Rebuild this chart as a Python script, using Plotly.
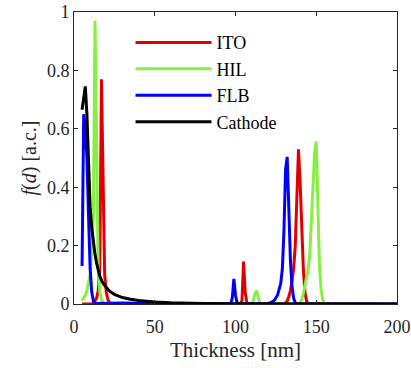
import plotly.graph_objects as go

# ---- data (thickness in nm, f(d) in a.c.) ----
ito_x = [5, 10, 11, 12, 13, 14, 15, 16, 17, 18, 19, 20, 21, 22, 23, 60, 100, 103, 104, 105, 106, 107, 108,
         130, 131, 132, 133, 134, 135, 136, 137, 138, 139, 140, 141, 142, 143, 144, 145, 200]
ito_y = [0, 0, 0.001, 0.003, 0.01, 0.02, 0.045, 0.13, 0.77, 0.4, 0.1, 0.04, 0.015, 0.005, 0, 0, 0, 0, 0.01, 0.145, 0.04, 0.005, 0,
         0, 0.004, 0.01, 0.025, 0.045, 0.08, 0.12, 0.2, 0.35, 0.53, 0.42, 0.25, 0.12, 0.04, 0.01, 0, 0]

hil_x = [5, 6, 7, 8, 9, 10, 11, 12, 13, 14, 15, 16, 17, 18, 19, 60, 108, 110, 111, 112, 113, 114, 115, 116,
         139, 140, 141, 142, 143, 144, 145, 146, 147, 148, 149, 150, 151, 152, 153, 154, 155, 156, 200]
hil_y = [0.012, 0.02, 0.03, 0.045, 0.07, 0.1, 0.18, 0.3, 0.97, 0.45, 0.12, 0.04, 0.015, 0.005, 0, 0, 0, 0, 0.01, 0.035, 0.046, 0.025, 0.005, 0,
         0, 0.005, 0.015, 0.035, 0.06, 0.09, 0.12, 0.17, 0.28, 0.42, 0.52, 0.556, 0.35, 0.13, 0.05, 0.015, 0.003, 0, 0]

flb_x = [5, 6, 7, 8, 9, 10, 11, 12, 13, 14, 30, 40, 50, 60, 96, 97, 98, 99, 100, 101, 102,
         118, 120, 122, 124, 126, 128, 129, 130, 131, 132, 133, 134, 135, 136, 137, 138, 200]
flb_y = [0.13, 0.65, 0.6, 0.5, 0.3, 0.12, 0.04, 0.01, 0.004, 0.002, 0.003, 0.002, 0.001, 0, 0, 0, 0.02, 0.086, 0.03, 0.005, 0,
         0, 0.002, 0.005, 0.012, 0.03, 0.07, 0.12, 0.25, 0.46, 0.504, 0.33, 0.15, 0.06, 0.02, 0.005, 0, 0]

cat_x = [5, 6, 7, 8, 9, 10, 11, 12, 13, 14, 15, 16, 18, 20, 22, 25, 30, 35, 40, 50, 60, 80, 100, 200]
cat_y = [0.665, 0.71, 0.745, 0.65, 0.45, 0.33, 0.26, 0.21, 0.17, 0.14, 0.115, 0.095, 0.07, 0.055, 0.044, 0.033,
         0.022, 0.016, 0.012, 0.007, 0.004, 0.002, 0.001, 0.0]

series = [
    ("ITO", ito_x, ito_y, "#e00000"),
    ("HIL", hil_x, hil_y, "#86f040"),
    ("FLB", flb_x, flb_y, "#0000ff"),
    ("Cathode", cat_x, cat_y, "#000000"),
]

x_ticks = [0, 50, 100, 150, 200]
y_ticks = [0, 0.2, 0.4, 0.6, 0.8, 1]
y_tick_labels = ["0", "0.2", "0.4", "0.6", "0.8", "1"]

FONT = "Liberation Serif, Times New Roman, serif"
AX = "#262626"

fig = go.Figure()
for name, xs, ys, col in series:
    fig.add_trace(go.Scatter(x=xs, y=ys, mode="lines", name=name,
                             line=dict(color=col, width=3)))

fig.update_layout(
    width=411, height=368,
    margin=dict(l=74, r=14, t=12, b=64, autoexpand=False),
    paper_bgcolor="white", plot_bgcolor="white",
    font=dict(family=FONT, size=17, color=AX),
    showlegend=True,
    legend=dict(x=0.175, y=0.958, xanchor="left", yanchor="top",
                bgcolor="rgba(0,0,0,0)", borderwidth=0,
                font=dict(family=FONT, size=18, color="#000000"),
                itemwidth=76, tracegroupgap=0),
)
fig.update_xaxes(
    range=[0, 200], tickvals=x_ticks, ticks="inside", ticklen=4, tickcolor=AX,
    showline=True, linecolor=AX, linewidth=1, mirror="ticks", showgrid=False, zeroline=False,
    automargin=False, ticklabelstandoff=6,
    tickfont=dict(family=FONT, size=18, color=AX),
    title=dict(text="Thickness [nm]", font=dict(family=FONT, size=21, color=AX), standoff=6),
)
fig.update_yaxes(
    range=[0, 1], tickvals=y_ticks, ticktext=y_tick_labels, ticks="inside", ticklen=4, tickcolor=AX,
    showline=True, linecolor=AX, linewidth=1, mirror="ticks", showgrid=False, zeroline=False,
    automargin=False,
    tickfont=dict(family=FONT, size=18, color=AX),
    title=dict(text="<i>f</i>(<i>d</i>) [a.c.]", font=dict(family=FONT, size=20, color=AX), standoff=4),
)

fig.write_html("out.html")
